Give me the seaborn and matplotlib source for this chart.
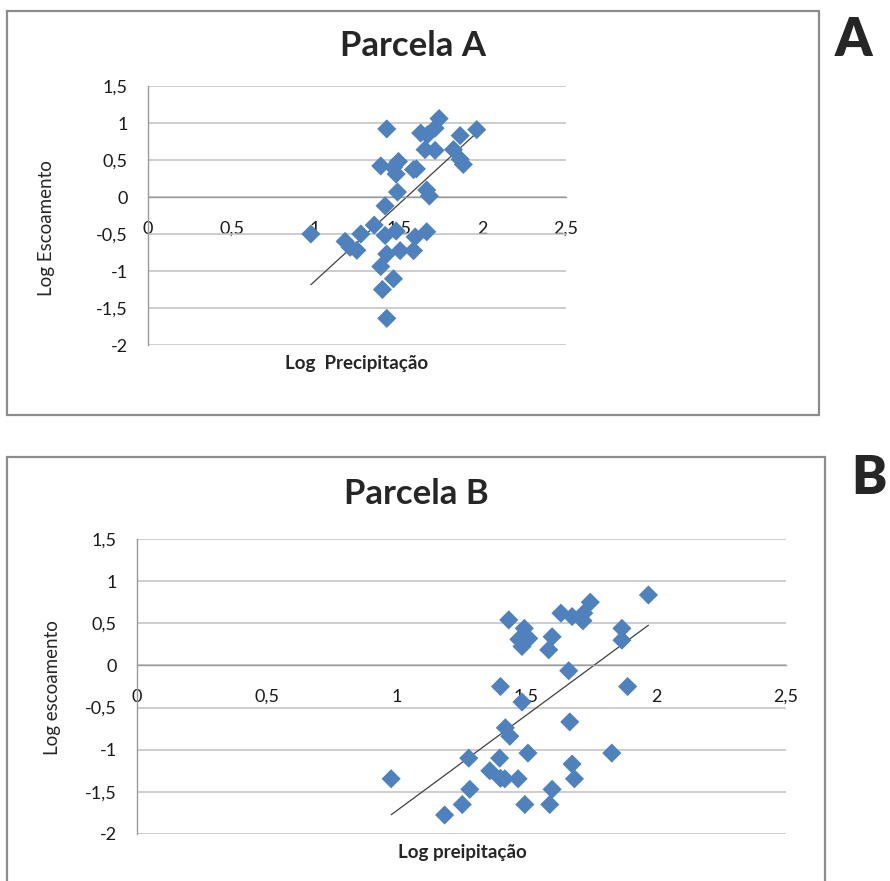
import numpy as np
import pandas as pd
import matplotlib
matplotlib.use("Agg")
import matplotlib.pyplot as plt
from matplotlib.patches import Rectangle
import seaborn as sns

# Parcela A
a_x = [0.974, 1.428, 1.741, 1.717, 1.631, 1.671, 1.966, 1.867, 1.657, 1.717,
       1.827, 1.867, 1.886, 1.392, 1.498, 1.468, 1.484, 1.588, 1.605, 1.492,
       1.667, 1.683, 1.418, 1.353, 1.484, 1.418, 1.273, 1.667, 1.598, 1.179,
       1.209, 1.249, 1.428, 1.508, 1.588, 1.392, 1.468, 1.402, 1.428]
a_y = [-0.50, 0.92, 1.06, 0.93, 0.864, 0.84, 0.91, 0.83, 0.64, 0.63,
       0.64, 0.51, 0.44, 0.42, 0.48, 0.40, 0.31, 0.37, 0.38, 0.067,
       0.094, 0.013, -0.12, -0.38, -0.46, -0.52, -0.50, -0.47, -0.54, -0.60,
       -0.68, -0.72, -0.77, -0.725, -0.725, -0.94, -1.105, -1.25, -1.64]

# Parcela B
b_x = [0.979, 1.970, 1.746, 1.633, 1.676, 1.721, 1.718, 1.432, 1.868, 1.868,
       1.492, 1.471, 1.509, 1.483, 1.599, 1.586, 1.663, 1.400, 1.890, 1.483,
       1.667, 1.419, 1.436, 1.506, 1.829, 1.278, 1.397, 1.676, 1.359, 1.400,
       1.417, 1.468, 1.685, 1.282, 1.599, 1.253, 1.494, 1.590, 1.185]
b_y = [-1.345, 0.836, 0.75, 0.62, 0.58, 0.62, 0.53, 0.54, 0.44, 0.30,
       0.44, 0.31, 0.32, 0.225, 0.34, 0.185, -0.063, -0.25, -0.25, -0.434,
       -0.67, -0.74, -0.84, -1.04, -1.04, -1.10, -1.10, -1.17, -1.25, -1.34,
       -1.345, -1.345, -1.345, -1.47, -1.47, -1.65, -1.65, -1.65, -1.775]

x_ticks = [0, 0.5, 1, 1.5, 2, 2.5]
x_labels = ["0", "0,5", "1", "1,5", "2", "2,5"]
y_ticks = [-2, -1.5, -1, -0.5, 0, 0.5, 1, 1.5]
y_labels = ["-2", "-1,5", "-1", "-0,5", "0", "0,5", "1", "1,5"]

BLUE = "#4f81bd"
GRID = "#c0c0c0"
AXIS = "#9a9a9a"

sns.set_style("white")
plt.rcParams["font.family"] = ["Lato", "DejaVu Sans"]


def painel(ax, x, y, xlabel, ylabel, ylab_pos, xlab_pos):
    df = pd.DataFrame({"x": x, "y": y})
    sns.regplot(data=df, x="x", y="y", ax=ax, scatter=False, ci=None,
                truncate=True, line_kws={"color": "#404040", "lw": 0.9})
    sns.scatterplot(data=df, x="x", y="y", ax=ax, marker="D", s=95,
                    color=BLUE, edgecolor="none", zorder=3)
    ax.set_xlim(0, 2.5)
    ax.set_ylim(-2, 1.5)
    ax.set_xticks(x_ticks, x_labels)
    ax.set_yticks(y_ticks, y_labels)
    ax.yaxis.grid(True, color=GRID, lw=1.1)
    ax.set_axisbelow(True)
    for s in ["top", "right"]:
        ax.spines[s].set_visible(False)
    ax.spines["bottom"].set_position(("data", 0))
    ax.spines["bottom"].set_color(AXIS)
    ax.spines["left"].set_color(AXIS)
    ax.spines["bottom"].set_linewidth(1.0)
    ax.spines["left"].set_linewidth(1.0)
    ax.tick_params(axis="x", direction="out", length=4, color=AXIS,
                   pad=13, labelsize=13, labelcolor="#1a1a1a")
    ax.tick_params(axis="y", direction="out", length=5.5, color=AXIS,
                   pad=9, labelsize=13, labelcolor="#1a1a1a")
    ax.set_xlabel(xlabel, fontsize=13.5, fontweight="bold")
    ax.set_ylabel(ylabel, fontsize=13.5)
    ax.xaxis.set_label_coords(*xlab_pos)
    ax.yaxis.set_label_coords(*ylab_pos)


fig = plt.figure(figsize=(8.9, 8.81), dpi=100)
W, H = 890, 881


def fx(p):
    return p / W


def fy(p):
    return 1 - p / H


# molduras
fig.patches.append(Rectangle((fx(7), fy(415)), fx(819 - 7), (415 - 11) / H,
                             transform=fig.transFigure, fill=False,
                             edgecolor="#8c8c8c", lw=1.6))
fig.patches.append(Rectangle((fx(7), fy(900)), fx(825 - 7), (900 - 457) / H,
                             transform=fig.transFigure, fill=False,
                             edgecolor="#8c8c8c", lw=1.6))

ax_a = fig.add_axes([fx(148), fy(345), (566 - 148) / W, (345 - 86) / H])
painel(ax_a, a_x, a_y, "Log  Precipitação", "Log Escoamento",
       (-0.222, 0.45), (0.5, -0.039))

ax_b = fig.add_axes([fx(137), fy(834), (786 - 137) / W, (834 - 539) / H])
painel(ax_b, b_x, b_y, "Log preipitação", "Log escoamento",
       (-0.117, 0.498), (0.502, -0.034))

fig.text(fx(413), fy(46), "Parcela A", ha="center", va="center",
         fontsize=25, fontweight="bold")
fig.text(fx(416), fy(494), "Parcela B", ha="center", va="center",
         fontsize=25, fontweight="bold")

fig.text(fx(853), fy(41), "A", ha="center", va="center", fontsize=38,
         fontweight="heavy")
fig.text(fx(869), fy(478), "B", ha="center", va="center", fontsize=38,
         fontweight="heavy")

fig.savefig("out.png", dpi=100)
